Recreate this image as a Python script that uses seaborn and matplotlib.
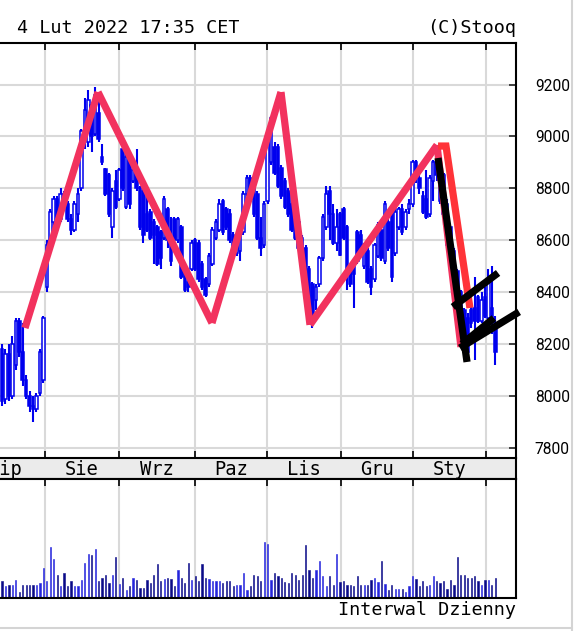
import numpy as np
import pandas as pd
import matplotlib
matplotlib.use("Agg")
import matplotlib.pyplot as plt
import seaborn as sns
from matplotlib.lines import Line2D

# =====================================================
# Data (daily session index, OHLC, volume)
# =====================================================
opens = [8180, 7990, 8160, 8000, 8120, 8290, 8170, 8060, 8000, 7960,
         7950, 8010, 8060, 8420, 8580, 8670, 8760, 8680, 8780, 8740,
         8680, 8640, 8700, 8800, 9000, 8980, 9120, 9010, 9090, 8920,
         8875, 8850, 8650, 8830, 8760, 8950, 8730, 8920, 8830, 8870,
         8800, 8790, 8700, 8710, 8670, 8650, 8630, 8610, 8720, 8600,
         8680, 8600, 8650, 8480, 8440, 8490, 8600, 8590, 8510, 8450,
         8430, 8510, 8610, 8640, 8750, 8720, 8700, 8620, 8550, 8560,
         8630, 8780, 8840, 8800, 8780, 8610, 8580, 8750, 8900, 8960,
         8960, 8880, 8830, 8790, 8740, 8700, 8670, 8610, 8570, 8490,
         8430, 8370, 8430, 8530, 8650, 8790, 8700, 8590, 8700, 8720,
         8650, 8490, 8500, 8630, 8620, 8500, 8560, 8490, 8450, 8540,
         8640, 8520, 8670, 8710, 8550, 8650, 8720, 8650, 8720, 8740,
         8900, 8840, 8770, 8760, 8700, 8830, 8900, 8900, 8850, 8740,
         8650, 8560, 8480, 8400, 8330, 8300, 8330, 8340, 8380, 8290,
         8380, 8300, 8340, 8260]
highs = [8200, 8180, 8200, 8230, 8300, 8300, 8280, 8080, 8020, 8000,
         8010, 8180, 8310, 8600, 8720, 8770, 8770, 8800, 8790, 8750,
         8700, 8750, 8800, 9030, 9150, 9180, 9130, 9190, 9150, 8970,
         8880, 8860, 8800, 8870, 8880, 8960, 8930, 8940, 8900, 8950,
         8810, 8800, 8780, 8720, 8680, 8660, 8640, 8770, 8730, 8690,
         8690, 8690, 8660, 8490, 8460, 8600, 8610, 8600, 8520, 8460,
         8550, 8650, 8680, 8760, 8760, 8730, 8720, 8630, 8620, 8670,
         8790, 8850, 8850, 8810, 8790, 8690, 8750, 8990, 9080, 8980,
         8970, 8890, 8840, 8800, 8750, 8710, 8680, 8620, 8580, 8500,
         8440, 8430, 8540, 8700, 8810, 8810, 8740, 8720, 8710, 8730,
         8660, 8500, 8520, 8640, 8640, 8590, 8570, 8500, 8590, 8670,
         8650, 8750, 8680, 8720, 8720, 8730, 8740, 8720, 8760, 8910,
         8910, 8850, 8790, 8870, 8850, 8910, 8930, 8910, 8860, 8760,
         8660, 8570, 8490, 8410, 8340, 8320, 8350, 8460, 8390, 8400,
         8420, 8490, 8500, 8310]
lows = [7960, 7970, 7980, 7990, 8100, 8150, 8040, 7990, 7940, 7900,
        7940, 8000, 8050, 8400, 8560, 8660, 8680, 8670, 8720, 8670,
        8620, 8630, 8670, 8790, 8950, 8960, 8940, 9000, 8980, 8890,
        8770, 8690, 8610, 8720, 8750, 8790, 8720, 8720, 8820, 8790,
        8640, 8590, 8630, 8600, 8510, 8500, 8490, 8600, 8570, 8500,
        8590, 8590, 8450, 8400, 8400, 8480, 8480, 8440, 8410, 8380,
        8420, 8500, 8600, 8630, 8620, 8640, 8590, 8560, 8540, 8520,
        8620, 8770, 8750, 8690, 8600, 8540, 8570, 8740, 8890, 8850,
        8800, 8760, 8720, 8690, 8630, 8600, 8560, 8480, 8430, 8300,
        8260, 8330, 8420, 8520, 8640, 8600, 8580, 8560, 8540, 8600,
        8410, 8420, 8340, 8510, 8560, 8490, 8430, 8390, 8440, 8530,
        8520, 8510, 8560, 8440, 8540, 8640, 8620, 8640, 8700, 8730,
        8820, 8780, 8700, 8680, 8690, 8750, 8830, 8740, 8660, 8570,
        8480, 8410, 8340, 8240, 8180, 8140, 8260, 8140, 8280, 8280,
        8300, 8290, 8240, 8120]
closes = [7980, 8160, 8000, 8200, 8290, 8170, 8060, 8000, 7960, 7950,
          8000, 8170, 8300, 8580, 8710, 8760, 8690, 8780, 8740, 8680,
          8640, 8740, 8780, 9020, 9100, 9140, 9000, 9160, 8990, 8900,
          8780, 8700, 8790, 8730, 8870, 8800, 8920, 8740, 8870, 8800,
          8650, 8620, 8640, 8610, 8620, 8510, 8530, 8760, 8600, 8520,
          8600, 8680, 8460, 8410, 8420, 8590, 8490, 8450, 8420, 8390,
          8540, 8640, 8670, 8740, 8630, 8650, 8600, 8570, 8610, 8660,
          8780, 8840, 8760, 8700, 8610, 8570, 8740, 8980, 9070, 8860,
          8810, 8770, 8730, 8700, 8640, 8610, 8570, 8490, 8440, 8310,
          8290, 8420, 8530, 8690, 8780, 8700, 8590, 8650, 8545, 8610,
          8480, 8430, 8470, 8520, 8570, 8580, 8440, 8420, 8580, 8660,
          8530, 8740, 8570, 8460, 8710, 8720, 8630, 8710, 8740, 8900,
          8840, 8800, 8710, 8690, 8840, 8900, 8850, 8750, 8700, 8580,
          8500, 8420, 8350, 8250, 8190, 8170, 8280, 8290, 8290, 8370,
          8310, 8440, 8280, 8170]
volume = [17, 12, 13, 13, 18, 6, 13, 13, 13, 13,
          13, 15, 30, 17, 51, 39, 23, 12, 25, 12,
          17, 12, 12, 18, 35, 44, 43, 49, 17, 20,
          23, 15, 23, 41, 14, 20, 8, 12, 20, 18,
          10, 10, 18, 15, 23, 34, 17, 19, 20, 19,
          12, 28, 20, 15, 35, 18, 22, 17, 34, 20,
          19, 17, 17, 17, 15, 17, 17, 12, 13, 13,
          25, 8, 12, 23, 22, 17, 56, 54, 18, 25,
          22, 20, 16, 15, 25, 23, 18, 23, 53, 28,
          20, 28, 37, 22, 12, 22, 13, 44, 16, 17,
          13, 13, 12, 22, 13, 13, 13, 18, 20, 16,
          37, 14, 8, 13, 9, 9, 9, 6, 12, 22,
          19, 12, 17, 12, 13, 22, 17, 15, 17, 9,
          18, 13, 41, 23, 23, 20, 20, 22, 17, 13,
          18, 18, 13, 20]

# month boundaries (session index) and labels
month_bounds = [12.6, 33.8, 55.9, 76.8, 98.3, 119.2, 140.3]
month_labels = ["Lip", "Sie", "Wrz", "Paz", "Lis", "Gru", "Sty"]
month_label_pos = [0.9, 23.2, 44.85, 66.35, 87.55, 108.75, 129.75]

# hand-drawn trend lines (session index, price)
zigzag_x = [6.67, 27.83, 60.87, 80.87, 89.28, 126.09, 133.04]
zigzag_y = [8262, 9171, 8281, 9171, 8274, 8967, 8189]
red_x = [126.4, 128.7, 135.65]
red_y = [8963, 8963, 8339]
black_lines = [
    ([126.4, 134.8], [8917, 8131]),
    ([130.7, 143.8], [8343, 8474]),
    ([132.75, 149.9], [8185, 8324]),
    ([133.3, 142.6], [8200, 8300]),
]

price_ticks = [7800, 8000, 8200, 8400, 8600, 8800, 9000, 9200]

# =====================================================
# Frame
# =====================================================
idx = np.arange(len(closes))
df = pd.DataFrame({"idx": idx, "open": opens, "high": highs, "low": lows,
                   "close": closes, "volume": volume})
df["dir"] = np.where(df["close"] >= df["open"], "up", "down")

sns.set_style("white")
plt.rcParams["font.family"] = ["DejaVu Sans Mono"]

W, H = 576, 631
fig = plt.figure(figsize=(W / 100, H / 100), dpi=100)
fig.patch.set_facecolor("white")

def fbox(x0, y0, x1, y1):
    return [x0 / W, 1 - y1 / H, (x1 - x0) / W, (y1 - y0) / H]

ax = fig.add_axes(fbox(0, 43, 516, 458))
axb = fig.add_axes(fbox(0, 458, 516, 479))
axv = fig.add_axes(fbox(0, 479, 516, 598))

XMIN, XMAX = -0.58, 149.0
GRID = "#d9d9d9"
BLUE = "#0000ee"
SPINE_W = 1.5

# =====================================================
# Price panel
# =====================================================
ax.set_xlim(XMIN, XMAX)
ax.set_ylim(7761, 9360)
for v in price_ticks:
    ax.axhline(v, color=GRID, lw=1.5, zorder=0)
for b in month_bounds:
    ax.axvline(b, color=GRID, lw=1.5, zorder=0)

ax.vlines(df["idx"], df["low"], df["high"], color=BLUE, lw=1.5, zorder=2)
body_lo = np.minimum(df["open"], df["close"])
body_h = (df["close"] - df["open"]).abs().clip(lower=5)
fills = np.where(df["dir"] == "up", "white", BLUE)
ax.bar(df["idx"], body_h, bottom=body_lo, width=0.74, color=fills,
       edgecolor=BLUE, linewidth=1.1, zorder=3)

# trend lines
for i in range(len(zigzag_x) - 1):
    ax.plot(zigzag_x[i:i + 2], zigzag_y[i:i + 2], color="#f2325e", lw=5.2,
            solid_capstyle="butt", zorder=4)
ax.plot(red_x, red_y, color="#ff3338", lw=5.2, solid_capstyle="butt",
        solid_joinstyle="miter", zorder=5)
for xs, ys in black_lines:
    ax.plot(xs, ys, color="black", lw=5.2, solid_capstyle="butt", zorder=6,
            clip_on=False)

ax.set_xticks(month_bounds)
ax.set_xticklabels([])
ax.set_yticks(price_ticks)
ax.yaxis.tick_right()
ax.tick_params(axis="x", which="both", direction="in", top=True, bottom=True,
               length=5, width=1.2, color="black")
ax.tick_params(axis="y", direction="in", right=True, left=False, length=5,
               width=1.2, pad=13.5, labelcolor="black")
for lab in ax.get_yticklabels():
    lab.set_family(["Roboto", "DejaVu Sans"])
    lab.set_fontsize(11.2)
for s in ["top", "right"]:
    ax.spines[s].set_color("black")
    ax.spines[s].set_linewidth(SPINE_W)
for s in ["left", "bottom"]:
    ax.spines[s].set_visible(False)
ax.grid(False)

# =====================================================
# Month band
# =====================================================
axb.set_xlim(XMIN, XMAX)
axb.set_ylim(0, 1)
axb.set_facecolor("#ebebeb")
for s in ["top", "bottom", "right"]:
    axb.spines[s].set_color("black")
    axb.spines[s].set_linewidth(SPINE_W)
axb.spines["left"].set_visible(False)
axb.set_xticks([])
axb.set_yticks([])
for pos, lab in zip(month_label_pos, month_labels):
    axb.text(pos, 0.45, lab, ha="center", va="center", fontsize=13.5,
             color="black", clip_on=True)

# =====================================================
# Volume panel
# =====================================================
sns.barplot(data=df, x="idx", y="volume", hue="dir", native_scale=True,
            palette={"up": "#2424dc", "down": "#0a0a88"}, saturation=1,
            dodge=False, width=0.36, errorbar=None, legend=False, ax=axv,
            zorder=2)
for p in axv.patches:
    p.set_edgecolor(p.get_facecolor())
    p.set_linewidth(0.4)
axv.set_xlim(XMIN, XMAX)
axv.set_ylim(0, 119)
for b in month_bounds:
    axv.axvline(b, color=GRID, lw=1.5, zorder=0)
axv.set_xticks(month_bounds)
axv.set_xticklabels([])
axv.set_yticks([])
axv.set_xlabel("")
axv.set_ylabel("")
axv.tick_params(axis="x", direction="in", top=True, bottom=False, length=5,
                width=1.2, color="black")
for s in ["bottom", "right", "top"]:
    axv.spines[s].set_color("black")
    axv.spines[s].set_linewidth(SPINE_W)
axv.spines["left"].set_visible(False)
axv.grid(False)

# =====================================================
# Texts and frame lines
# =====================================================
fig.text(17 / W, 1 - 28 / H, "4 Lut 2022 17:35 CET", ha="left", va="center",
         fontsize=13.3, color="black")
fig.text(516 / W, 1 - 28 / H, "(C)Stooq", ha="right", va="center",
         fontsize=13.3, color="black")
fig.text(516 / W, 1 - 610 / H, "Interwal Dzienny", ha="right", va="center",
         fontsize=13.3, color="black")
fig.add_artist(Line2D([572 / W, 572 / W], [0, 1], color="#d4d4d4", lw=1.5,
                      transform=fig.transFigure))
fig.add_artist(Line2D([0, 572 / W], [3 / H, 3 / H], color="#d4d4d4", lw=1.5,
                      transform=fig.transFigure))

fig.savefig("out.png", dpi=100)
